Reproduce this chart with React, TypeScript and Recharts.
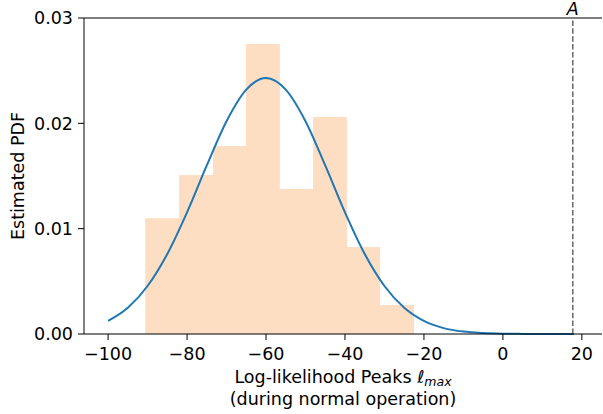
import {
  ComposedChart,
  Area,
  Line,
  XAxis,
  YAxis,
  ReferenceLine,
} from "recharts";

// histogram bin left edges and densities (last edge closes the final bin)
const binEdges = [-90.6, -82.0, -73.4, -65.1, -56.5, -48.1, -39.5, -31.1, -22.5];
const binHeights = [0.011, 0.0151, 0.01785, 0.02753, 0.01377, 0.0206, 0.00826, 0.00275, 0];

// fitted pdf curve
const curveX = [
  -100, -95, -90, -85, -80, -75, -70, -65, -60, -55, -50, -45, -40, -35, -30, -25,
  -20, -15, -10, -5, 0, 5, 10, 18,
];
const curveY = [
  0.00124, 0.00249, 0.00456, 0.0076, 0.01155, 0.016, 0.0202, 0.0232, 0.0243, 0.0232,
  0.0202, 0.016, 0.01155, 0.0076, 0.00456, 0.00249, 0.00124, 0.00056, 0.00023,
  0.00009, 0.00003, 0.00001, 0, 0,
];

const xTicks = [-100, -80, -60, -40, -20, 0, 20];
const yTicks = [0, 0.01, 0.02, 0.03];
const thresholdA = 17.7;

const histData = binEdges.map((x, i) => ({ x, h: binHeights[i] }));
const curveData = curveX.map((x, i) => ({ x, pdf: curveY[i] }));

const FONT = "DejaVu Sans, sans-serif";
const FS = 17.5;

const XLabel = ({ viewBox }: any) => {
  const cx = viewBox.x + viewBox.width / 2;
  const y = viewBox.y;
  return (
    <text textAnchor="middle" fontFamily={FONT} fontSize={FS} fill="#000">
      <tspan x={cx} y={y + 49}>
        Log-likelihood Peaks{" "}
        <tspan fontStyle="italic">ℓ</tspan>
        <tspan fontStyle="italic" fontSize={12.5} dy={3}>max</tspan>
      </tspan>
      <tspan x={cx} y={y + 71}>(during normal operation)</tspan>
    </text>
  );
};

const YLabel = ({ viewBox }: any) => {
  const cy = viewBox.y + viewBox.height / 2;
  return (
    <text
      x={24}
      y={cy}
      transform={`rotate(-90, 24, ${cy})`}
      textAnchor="middle"
      fontFamily={FONT}
      fontSize={FS}
      fill="#000"
    >
      Estimated PDF
    </text>
  );
};

const fmtX = (v: number) => String(v).replace("-", "\u2212");

export default function App() {
  return (
    <div style={{ position: "absolute", left: 0, top: 0, background: "#fff" }}>
      <ComposedChart
        width={603}
        height={414}
        margin={{ top: 18, right: 1, bottom: 0, left: 0 }}
      >
        <XAxis
          dataKey="x"
          type="number"
          domain={[-106.1, 25.1]}
          ticks={xTicks}
          allowDataOverflow
          tickFormatter={fmtX}
          height={80}
          stroke="#000"
          tick={{ fill: "#000", fontSize: FS, fontFamily: FONT }}
          tickSize={6}
          tickMargin={8}
          label={<XLabel />}
        />
        <YAxis
          type="number"
          domain={[0, 0.03]}
          ticks={yTicks}
          tickFormatter={(v: number) => v.toFixed(2)}
          width={84}
          stroke="#000"
          tick={{ fill: "#000", fontSize: FS, fontFamily: FONT }}
          tickSize={6}
          tickMargin={5}
          label={<YLabel />}
        />
        <Area
          data={histData}
          dataKey="h"
          type="stepAfter"
          fill="#fddec3"
          fillOpacity={1}
          stroke="none"
          isAnimationActive={false}
        />
        <Line
          data={curveData}
          dataKey="pdf"
          type="monotone"
          stroke="#1f77b4"
          strokeWidth={2}
          dot={false}
          isAnimationActive={false}
        />
        <ReferenceLine y={0.03} stroke="#000" strokeWidth={1} />
        <ReferenceLine
          x={thresholdA}
          stroke="#666"
          strokeWidth={1.5}
          strokeDasharray="5.5 2.4"
          label={{
            value: "A",
            position: "top",
            fill: "#000",
            fontSize: FS,
            fontStyle: "italic",
            fontFamily: FONT,
            offset: 3,
          }}
        />
      </ComposedChart>
    </div>
  );
}
